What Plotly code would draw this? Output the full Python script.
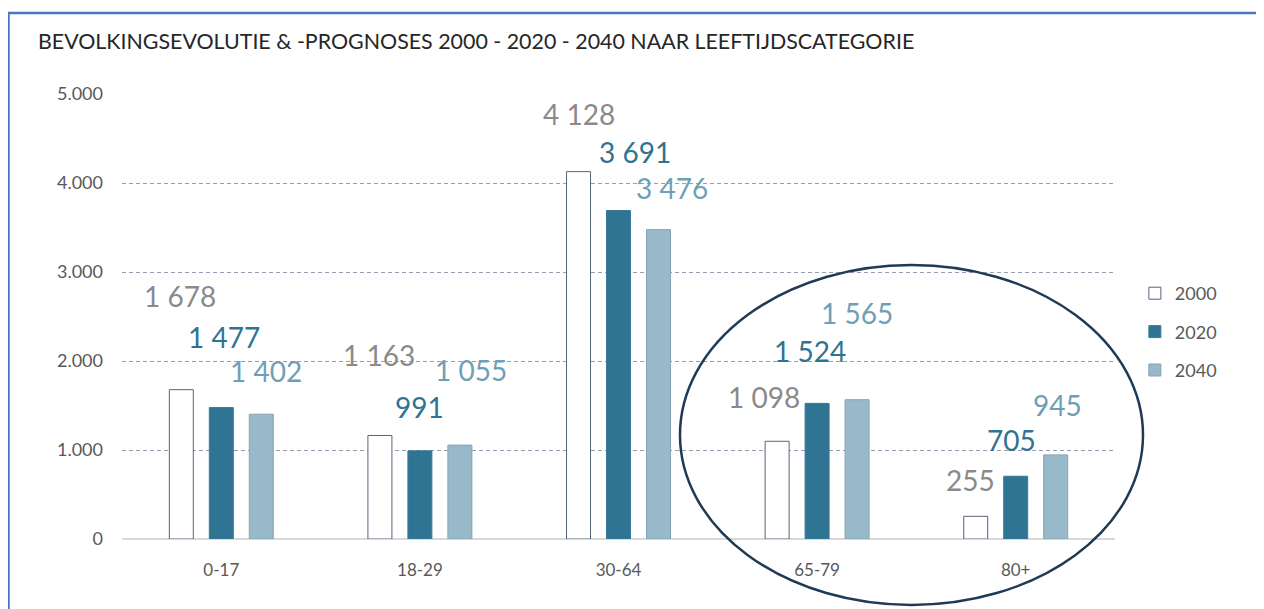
import plotly.graph_objects as go

# ---- data ----
categories = ["0-17", "18-29", "30-64", "65-79", "80+"]
years = ["2000", "2020", "2040"]
values_2000 = [1678, 1163, 4128, 1098, 255]
values_2020 = [1477, 991, 3691, 1524, 705]
values_2040 = [1402, 1055, 3476, 1565, 945]
title_text = "BEVOLKINGSEVOLUTIE & -PROGNOSES 2000 - 2020 - 2040 NAAR LEEFTIJDSCATEGORIE"

series = [values_2000, values_2020, values_2040]

# ---- styles ----
FONT = "Lato"
bar_fill = ["#ffffff", "#2f7593", "#98b9ca"]
bar_line = ["#56637a", "#3a7a97", "#86a2b3"]
label_color = ["#8a8a8a", "#2f7393", "#6f9fb6"]
slot_px = [-40, 0, 40]
# label pixel offsets (x, y) relative to top of each bar
label_dx = [[-1, -1, 0, -13, -5], [3, 0, 16, -7, -4], [5, 11, 13, 0, 2]]
label_dy = [[94, 80, 58, 44, 36], [71, 44, 59, 52, 36], [43, 75, 42, 87, 50]]

fig = go.Figure()
for i, (yr, vals) in enumerate(zip(years, series)):
    fig.add_trace(go.Bar(
        x=categories, y=vals, name=yr, legendgroup=yr,
        marker=dict(color=bar_fill[i], line=dict(color=bar_line[i], width=1)),
        hoverinfo="x+y+name",
    ))

annotations = []
for i, vals in enumerate(series):
    for j, v in enumerate(vals):
        txt = f"{v:,}".replace(",", " ")
        annotations.append(dict(
            x=categories[j], y=v, xref="x", yref="y", text=txt, showarrow=False,
            xanchor="center", yanchor="middle",
            xshift=slot_px[i] + label_dx[i][j], yshift=label_dy[i][j],
            font=dict(family=FONT, size=28, color=label_color[i]),
        ))

# page has 8px body margin: figure origin sits at (8, 8) in the screenshot
OFF = 8
W, H = 1264 - OFF, 609 - OFF
L, T = 122 - OFF, 94 - OFF
R = W - (1115 - OFF)
B = H - (539 - OFF)
pw, ph = W - L - R, H - T - B

def px(x):
    return (x - OFF - L) / pw

def py(y):
    return (H - B - (y - OFF)) / ph

shapes = [
    dict(type="line", xref="paper", yref="paper", x0=px(8.5), x1=px(8.5), y0=py(13), y1=py(640),
         line=dict(color="#4a74c6", width=2.5)),
    dict(type="line", xref="paper", yref="paper", x0=px(8), x1=px(1280), y0=py(13), y1=py(13),
         line=dict(color="#4a74c6", width=2.5)),
    dict(type="circle", xref="paper", yref="paper", x0=px(680), x1=px(1143), y0=py(605), y1=py(265),
         line=dict(color="#1e3a56", width=2.5)),
]

fig.update_layout(
    width=W, height=H,
    margin=dict(l=L, r=R, t=T, b=B, autoexpand=False),
    paper_bgcolor="white", plot_bgcolor="white",
    font=dict(family=FONT, color="#595959"),
    separators=",.",
    barmode="group", bargap=0.396, bargroupgap=0.4,
    title=dict(text=title_text, xref="container", x=(38 - OFF) / W, xanchor="left",
               yref="container", y=1 - (42 - OFF) / H, yanchor="middle",
               font=dict(family=FONT, size=21.4, color="#262626")),
    xaxis=dict(showgrid=False, ticks="", ticklabelstandoff=19,
               tickfont=dict(size=17, color="#595959"), showline=False, fixedrange=True),
    yaxis=dict(range=[0, 5000], dtick=1000, tickformat=",d", showgrid=True,
               gridcolor="#9b9bb3", gridwidth=1, griddash="4px,3px",
               zeroline=True, zerolinecolor="#d9d9d9", zerolinewidth=2,
               ticks="", ticklabelstandoff=18, tickfont=dict(size=18, color="#595959")),
    legend=dict(x=1.020, xanchor="left", y=py(332), yanchor="middle",
                font=dict(size=18, color="#595959"), tracegroupgap=12, bgcolor="rgba(0,0,0,0)"),
    annotations=annotations,
    shapes=shapes,
)

fig.write_html("out.html")
